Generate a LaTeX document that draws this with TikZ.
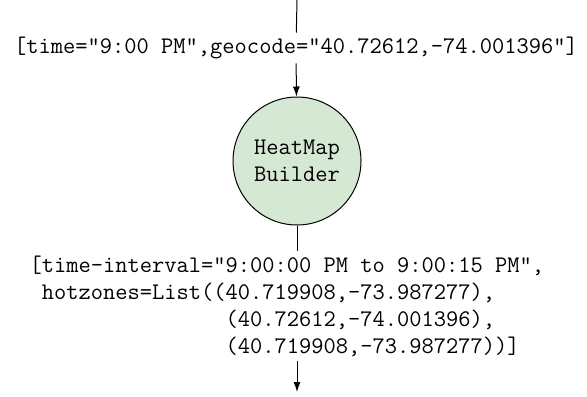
\documentclass[tikz,border=0pt]{standalone}
\usepackage{fontspec}
\usetikzlibrary{arrows.meta}
\definecolor{stagegreen}{HTML}{D5E8D4}
\newcommand{\tts}{\ttfamily\fontsize{11.9}{13.5}\selectfont}
\newcommand{\pad}[1]{\hphantom{#1}}

\begin{document}
\begin{tikzpicture}[x=0.5pt,y=-0.5pt,line width=0.5pt,
   msg/.style={inner xsep=0pt,inner ysep=2pt,font=\tts},
   stage/.style={circle,draw=black,fill=stagegreen,minimum size=64pt,inner sep=0pt,align=center,font=\tts},
   flow/.style={-{Latex[length=5pt,width=3.5pt]}}]
   \useasboundingbox (0,0) rectangle (587,396);
   \coordinate (src) at (297,0);
   \node[msg] (req) at (296,48) {[time="9:00 PM",geocode="40.72612,-74.001396"]};
   \node[stage] (hmb) at (297,161) {HeatMap\\Builder};
   \node[msg,align=left,anchor=north west] (res) at (29,251)
      {[time-interval="9:00:00 PM to 9:00:15 PM",\\
       \pad{x}hotzones=List((40.719908,-73.987277),\\
       \pad{xhotzones=List((}(40.72612,-74.001396),\\
       \pad{xhotzones=List((}(40.719908,-73.987277))]};
   \coordinate (snk) at (297,392);
   \draw (src) -- (req);
   \draw[flow] (req) -- (hmb);
   \draw (hmb.south) -- (hmb.south |- res.north);
   \draw[flow] (hmb.south |- res.south) -- (snk);
\end{tikzpicture}
\end{document}
